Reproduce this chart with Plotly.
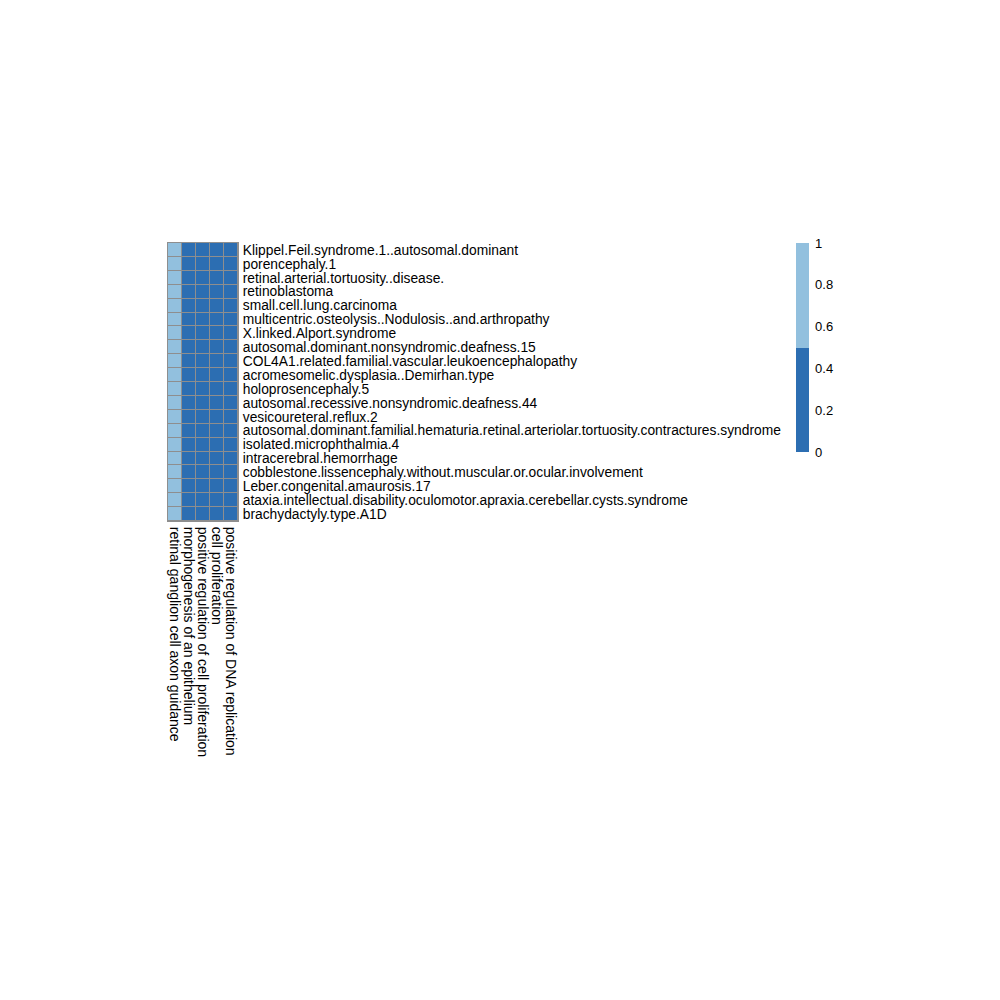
import plotly.graph_objects as go

rows = [
    "Klippel.Feil.syndrome.1..autosomal.dominant",
    "porencephaly.1",
    "retinal.arterial.tortuosity..disease.",
    "retinoblastoma",
    "small.cell.lung.carcinoma",
    "multicentric.osteolysis..Nodulosis..and.arthropathy",
    "X.linked.Alport.syndrome",
    "autosomal.dominant.nonsyndromic.deafness.15",
    "COL4A1.related.familial.vascular.leukoencephalopathy",
    "acromesomelic.dysplasia..Demirhan.type",
    "holoprosencephaly.5",
    "autosomal.recessive.nonsyndromic.deafness.44",
    "vesicoureteral.reflux.2",
    "autosomal.dominant.familial.hematuria.retinal.arteriolar.tortuosity.contractures.syndrome",
    "isolated.microphthalmia.4",
    "intracerebral.hemorrhage",
    "cobblestone.lissencephaly.without.muscular.or.ocular.involvement",
    "Leber.congenital.amaurosis.17",
    "ataxia.intellectual.disability.oculomotor.apraxia.cerebellar.cysts.syndrome",
    "brachydactyly.type.A1D",
]
columns = [
    "retinal ganglion cell axon guidance",
    "morphogenesis of an epithelium",
    "positive regulation of cell proliferation",
    "cell proliferation",
    "positive regulation of DNA replication",
]
# one value per column, identical for every row
column_values = [1, 0, 0, 0, 0]
z = [list(column_values) for _ in rows]
colorbar_ticks = [0, 0.2, 0.4, 0.6, 0.8, 1]
colorbar_ticktext = ["0", "0.2", "0.4", "0.6", "0.8", "1"]

light = "#92C0DE"
dark = "#2C6EB2"
grid = "#8E8E8E"
FONT = "Liberation Sans, Arial, Helvetica"

fig = go.Figure(go.Heatmap(
    z=z, x=columns, y=rows,
    zmin=0, zmax=1,
    colorscale=[[0, dark], [0.5, dark], [0.5, light], [1, light]],
    xgap=1, ygap=1,
    colorbar=dict(
        xref="container", x=0.796, xanchor="left",
        yref="paper", y=(521 - 452) / 278, yanchor="bottom",
        lenmode="pixels", len=209,
        thickness=13, thicknessmode="pixels",
        outlinewidth=0, xpad=0, ypad=0,
        tickvals=colorbar_ticks,
        ticktext=colorbar_ticktext,
        ticks="outside", ticklen=4, tickcolor="rgba(0,0,0,0)",
        tickfont=dict(size=13, color="black", family=FONT),
    ),
    hoverinfo="x+y+z",
))

fig.update_layout(
    width=1000, height=1000,
    margin=dict(l=168, r=762, t=243, b=479),
    paper_bgcolor="white", plot_bgcolor=grid,
    font=dict(family=FONT, size=14, color="black"),
    xaxis=dict(
        side="bottom", tickangle=90, showgrid=False, zeroline=False,
        showline=True, mirror=True, linecolor=grid, linewidth=1,
        ticks="", tickfont=dict(size=14), ticklabelstandoff=2,
        tickmode="array", tickvals=columns, ticktext=columns,
    ),
    yaxis=dict(
        side="right", autorange="reversed", showgrid=False, zeroline=False,
        showline=True, mirror=True, linecolor=grid, linewidth=1,
        ticks="", tickfont=dict(size=13.8), ticklabelstandoff=1,
        tickmode="array", tickvals=rows, ticktext=rows,
    ),
)

fig.write_html("out.html")
